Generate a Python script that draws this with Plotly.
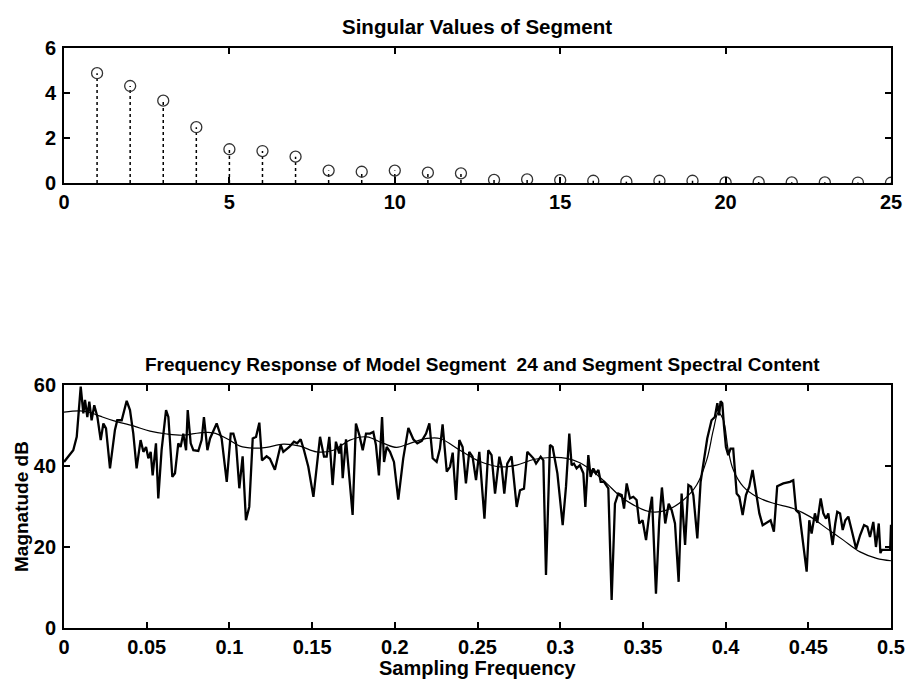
import plotly.graph_objects as go

# ---- Top: singular values ----
sv_index = list(range(1, 26))
sv_values = [4.88, 4.31, 3.66, 2.48, 1.5, 1.42, 1.17, 0.55, 0.5, 0.55, 0.46, 0.43,
             0.14, 0.16, 0.13, 0.1, 0.06, 0.1, 0.1, 0.03, 0.04, 0.03, 0.03, 0.02, 0.01]

# ---- Bottom: segment spectral content (vertices) ----
spec_freq = [0.0, 0.0056, 0.0077, 0.0101, 0.0117, 0.0127, 0.0141, 0.0153, 0.0167, 0.0183,
             0.0202, 0.0222, 0.0238, 0.0254, 0.0278, 0.0308, 0.0322, 0.0349, 0.0379, 0.0399,
             0.0419, 0.0439, 0.0463, 0.0480, 0.0496, 0.0510, 0.0524, 0.0536, 0.0556, 0.0570,
             0.0590, 0.0617, 0.0631, 0.0655, 0.0671, 0.0691, 0.0705, 0.0721, 0.0738, 0.0748,
             0.0766, 0.0782, 0.0812, 0.0832, 0.0846, 0.0867, 0.0883, 0.0923, 0.0953, 0.0984,
             0.1008, 0.1024, 0.1040, 0.1060, 0.1080, 0.1100, 0.1120, 0.1141, 0.1161, 0.1181,
             0.1197, 0.1225, 0.1245, 0.1275, 0.1310, 0.1326, 0.1362, 0.1390, 0.1410, 0.1431,
             0.1451, 0.1477, 0.1508, 0.1528, 0.1548, 0.1572, 0.1588, 0.1604, 0.1624, 0.1644,
             0.1664, 0.1675, 0.1685, 0.1705, 0.1745, 0.1765, 0.1786, 0.1806, 0.1826, 0.1850,
             0.1870, 0.1886, 0.1904, 0.1923, 0.1935, 0.1951, 0.1971, 0.1995, 0.2021, 0.2051,
             0.2082, 0.2112, 0.2136, 0.2163, 0.2189, 0.2209, 0.2229, 0.2253, 0.2273, 0.2289,
             0.2314, 0.2334, 0.2350, 0.2370, 0.2390, 0.2410, 0.2430, 0.2450, 0.2470, 0.2491,
             0.2511, 0.2542, 0.2565, 0.2585, 0.2606, 0.2632, 0.2646, 0.2662, 0.2680, 0.2706,
             0.2737, 0.2757, 0.2781, 0.2801, 0.2838, 0.2854, 0.2882, 0.2898, 0.2914, 0.2938,
             0.2954, 0.2983, 0.3015, 0.3035, 0.3055, 0.3069, 0.3083, 0.3099, 0.3119, 0.3140,
             0.3152, 0.3170, 0.3184, 0.3200, 0.3216, 0.3231, 0.3245, 0.3265, 0.3291, 0.3311,
             0.3331, 0.3351, 0.3372, 0.3386, 0.3402, 0.3422, 0.3442, 0.3462, 0.3478, 0.3498,
             0.3519, 0.3539, 0.3555, 0.3579, 0.3599, 0.3615, 0.3635, 0.3656, 0.3674, 0.3694,
             0.3716, 0.3734, 0.3755, 0.3775, 0.3791, 0.3805, 0.3829, 0.3849, 0.3865, 0.3889,
             0.3915, 0.3935, 0.3950, 0.3960, 0.3970, 0.3980, 0.3990, 0.4002, 0.4016, 0.4030,
             0.4046, 0.4067, 0.4083, 0.4103, 0.4123, 0.4143, 0.4163, 0.4183, 0.4204, 0.4224,
             0.4240, 0.4272, 0.4292, 0.4312, 0.4349, 0.4389, 0.4409, 0.4426, 0.4446, 0.4466,
             0.4490, 0.4506, 0.4520, 0.4540, 0.4554, 0.4575, 0.4591, 0.4607, 0.4621, 0.4635,
             0.4647, 0.4663, 0.4675, 0.4692, 0.4708, 0.4724, 0.4742, 0.4762, 0.4789, 0.4813,
             0.4837, 0.4857, 0.4873, 0.4893, 0.4909, 0.4926, 0.4936, 0.4945, 0.4995, 0.5000]
spec_db = [41.0, 43.9, 47.2, 59.6, 53.0, 56.3, 52.1, 55.9, 51.3, 55.0,
           52.1, 46.4, 50.5, 49.3, 39.4, 48.9, 51.3, 51.3, 56.1, 53.8,
           48.0, 39.4, 46.4, 43.5, 44.7, 41.9, 43.5, 37.7, 45.6, 32.0,
           43.9, 53.8, 52.1, 37.3, 38.2, 45.6, 44.7, 48.0, 43.9, 53.8,
           45.6, 43.9, 43.7, 46.4, 52.1, 43.9, 46.8, 50.5, 46.8, 36.1,
           48.0, 48.0, 45.6, 34.5, 42.4, 26.6, 29.9, 46.8, 47.2, 50.7,
           41.4, 42.4, 41.8, 39.1, 45.2, 43.5, 44.7, 46.0, 45.6, 46.6,
           43.9, 39.8, 32.4, 39.8, 47.2, 42.3, 42.3, 47.2, 35.3, 46.0,
           43.1, 45.5, 37.0, 46.6, 27.9, 50.5, 47.6, 43.9, 48.0, 48.0,
           48.4, 45.2, 37.7, 52.1, 41.0, 44.7, 43.5, 41.0, 31.7, 41.9,
           49.4, 46.6, 45.6, 46.2, 48.0, 50.5, 41.9, 41.0, 44.3, 50.3,
           38.6, 39.8, 43.3, 31.6, 46.4, 44.7, 35.7, 43.5, 42.3, 36.5,
           43.5, 27.0, 43.9, 42.7, 33.2, 42.3, 39.8, 33.2, 40.6, 42.4,
           29.9, 34.0, 34.4, 43.5, 41.9, 40.6, 42.3, 41.4, 13.1, 45.2,
           44.7, 38.2, 25.4, 34.9, 48.0, 40.2, 40.6, 39.4, 40.2, 38.2,
           29.9, 42.7, 37.3, 39.4, 38.2, 39.0, 36.1, 36.1, 34.5, 6.9,
           30.7, 33.2, 32.8, 29.5, 35.7, 32.0, 32.4, 31.6, 25.8, 26.6,
           21.7, 28.3, 32.4, 8.5, 26.6, 34.7, 25.8, 30.7, 29.1, 25.8,
           11.4, 33.2, 20.5, 35.3, 34.9, 32.8, 22.1, 36.1, 40.6, 46.8,
           51.3, 52.1, 55.5, 52.5, 56.0, 55.5, 50.0, 44.7, 42.7, 44.3,
           44.3, 33.2, 32.4, 27.9, 32.8, 34.9, 39.0, 34.0, 28.3, 25.4,
           25.8, 26.6, 23.8, 35.0, 35.7, 36.1, 36.5, 29.1, 28.3, 21.7,
           13.9, 26.6, 23.3, 28.3, 26.0, 32.0, 28.3, 27.0, 28.3, 23.8,
           20.5, 25.8, 28.7, 28.3, 24.2, 26.6, 27.5, 24.2, 19.6, 22.9,
           25.4, 25.0, 22.5, 26.2, 20.0, 25.8, 18.5, 19.3, 19.3, 25.5]

# ---- Bottom: model frequency response (smooth curve) ----
model_freq = [0.0, 0.0097, 0.0157, 0.0218, 0.0298, 0.0419, 0.0520, 0.0621, 0.0721, 0.0822,
              0.0903, 0.0983, 0.1064, 0.1145, 0.1225, 0.1326, 0.1427, 0.1527, 0.1628, 0.1729,
              0.1830, 0.1931, 0.2011, 0.2092, 0.2193, 0.2273, 0.2394, 0.2515, 0.2636, 0.2737,
              0.2838, 0.2938, 0.3039, 0.3119, 0.3200, 0.3281, 0.3361, 0.3442, 0.3543, 0.3644,
              0.3745, 0.3825, 0.3886, 0.3926, 0.3956, 0.3986, 0.4016, 0.4047, 0.4107, 0.4188,
              0.4289, 0.4409, 0.4510, 0.4611, 0.4712, 0.4813, 0.4913, 0.5000]
model_db = [53.3, 53.6, 53.2, 52.3, 51.2, 49.9, 48.6, 47.9, 47.6, 48.2,
            48.2, 46.8, 44.9, 44.4, 44.6, 45.4, 44.9, 43.5, 43.9, 46.4,
            47.2, 45.6, 44.6, 45.6, 46.8, 46.8, 43.9, 41.1, 39.8, 40.2,
            41.6, 42.1, 41.9, 40.8, 38.6, 35.7, 32.6, 30.4, 28.7, 29.1,
            31.6, 35.3, 41.5, 48.9, 53.2, 51.4, 43.9, 39.0, 34.9, 32.4,
            30.8, 29.5, 27.5, 24.6, 21.7, 18.8, 17.2, 16.6]

FONT = "Liberation Sans, Arial, Helvetica, sans-serif"

FIG_W, FIG_H = 908, 680
ML, MR, MT, MB = 64, 17, 48, 52
W_PLOT = FIG_W - ML - MR
H_PLOT = FIG_H - MT - MB


def px(xp):  # page pixel x -> paper fraction
    return (xp - ML) / W_PLOT


def py(yp):  # page pixel y -> paper fraction
    return (FIG_H - MB - yp) / H_PLOT


# stems as one trace with gaps
stem_x, stem_y = [], []
for i, v in zip(sv_index, sv_values):
    stem_x += [i, i, None]
    stem_y += [0, v, None]

fig = go.Figure()
fig.add_trace(go.Scatter(x=stem_x, y=stem_y, mode="lines",
                         line=dict(color="black", width=1.5, dash="dot"),
                         xaxis="x", yaxis="y", showlegend=False, hoverinfo="skip"))
fig.add_trace(go.Scatter(x=sv_index, y=sv_values, mode="markers",
                         marker=dict(symbol="circle-open", size=11, color="#333",
                                     line=dict(width=1.3, color="#333")),
                         xaxis="x", yaxis="y", showlegend=False))
fig.add_trace(go.Scatter(x=model_freq, y=model_db, mode="lines", line_shape="spline",
                         line=dict(color="black", width=1.2),
                         xaxis="x2", yaxis="y2", showlegend=False))
fig.add_trace(go.Scatter(x=spec_freq, y=spec_db, mode="lines",
                         line=dict(color="black", width=2.3),
                         xaxis="x2", yaxis="y2", showlegend=False))

axis_common = dict(showgrid=False, zeroline=False, showline=True, linecolor="black",
                   linewidth=1.8, mirror="ticks", ticks="inside", ticklen=6,
                   tickwidth=1.5, tickcolor="black", automargin=False,
                   tickfont=dict(family=FONT, size=20, color="black", weight="bold"))

top_frac = 1 - 135 / H_PLOT
bot_frac = 243 / H_PLOT

fig.update_layout(
    width=FIG_W, height=FIG_H,
    margin=dict(l=ML, r=MR, t=MT, b=MB),
    paper_bgcolor="white", plot_bgcolor="white",
    xaxis=dict(domain=[0, 1], range=[0, 25], tickvals=[0, 5, 10, 15, 20, 25],
               anchor="y", **axis_common),
    yaxis=dict(domain=[top_frac, 1], range=[0, 6], tickvals=[0, 2, 4, 6],
               anchor="x", ticklabelstandoff=2, **axis_common),
    xaxis2=dict(domain=[0, 1], range=[0, 0.5],
                tickvals=[0, 0.05, 0.1, 0.15, 0.2, 0.25, 0.3, 0.35, 0.4, 0.45, 0.5],
                ticktext=["0", "0.05", "0.1", "0.15", "0.2", "0.25", "0.3", "0.35", "0.4", "0.45", "0.5"],
                anchor="y2", **axis_common),
    yaxis2=dict(domain=[0, bot_frac], range=[0, 60], tickvals=[0, 20, 40, 60],
                anchor="x2", ticklabelstandoff=2, **axis_common),
)

ann = dict(xref="paper", yref="paper", showarrow=False, xanchor="center", yanchor="middle")
fig.add_annotation(text="Singular Values of Segment", x=px(477), y=py(26),
                   font=dict(family=FONT, size=20.5, color="black", weight="bold"), **ann)
fig.add_annotation(text="Frequency Response of Model Segment  24 and Segment Spectral Content",
                   x=px(482), y=py(365),
                   font=dict(family=FONT, size=19, color="black", weight="bold"), **ann)
fig.add_annotation(text="Sampling Frequency", x=px(478), y=py(667.5),
                   font=dict(family=FONT, size=20, color="black", weight="bold"), **ann)
fig.add_annotation(text="Magnatude dB", x=px(21), y=py(507), textangle=-90,
                   font=dict(family=FONT, size=19, color="black", weight="bold"), **ann)

fig.write_html("out.html", config={"displayModeBar": False},
               post_script="document.body.style.margin='0';document.body.style.overflow='hidden';")
